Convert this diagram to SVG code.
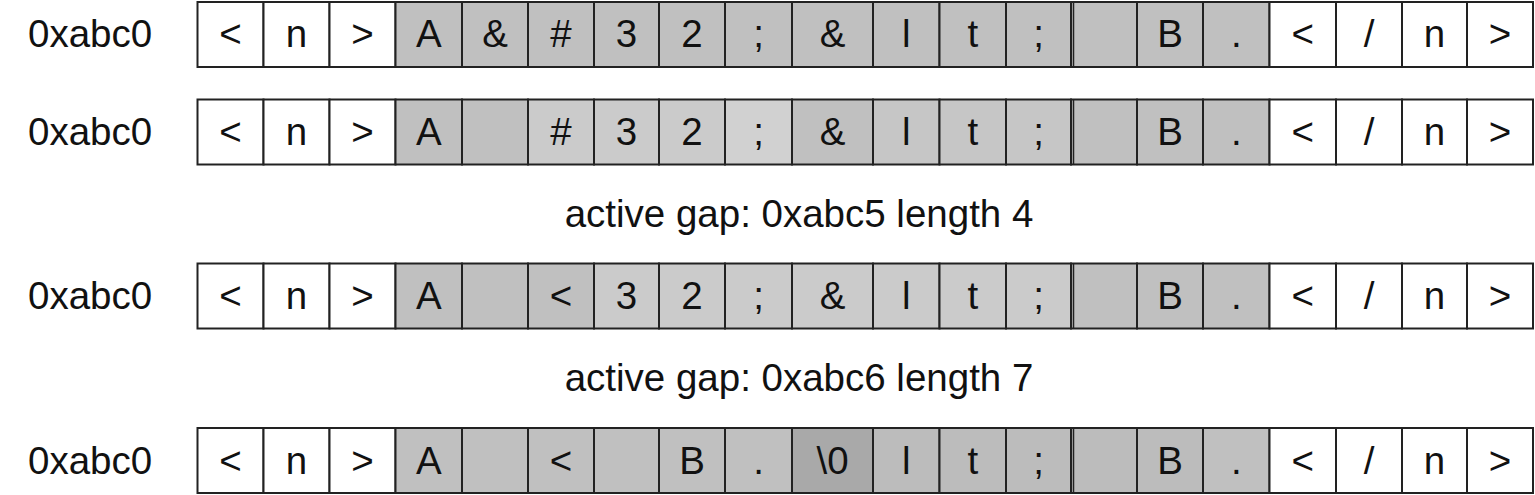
<svg xmlns="http://www.w3.org/2000/svg" width="1535" height="495" viewBox="0 0 1535 495">
<style>
rect{stroke:#222;stroke-width:2}
.w{fill:#ffffff}.g{fill:#c0c0c0}.a{fill:#cbcbcb}.b{fill:#d1d1d1}.m{fill:#c6c6c6}.d{fill:#a9a9a9}.k{fill:#bcbcbc}
text{font-family:"Liberation Sans",Arial,sans-serif;font-size:38.5px;fill:#111;text-anchor:middle}
.lbl{text-anchor:start}
.dl{stroke:#222;stroke-width:1.5}
</style>
<rect width="1535" height="495" fill="#fff" style="stroke:none"/>

<g id="row1">
<text class="lbl" x="28" y="47">0xabc0</text>
<g id="r1c1"><rect class="w" x="197.5" y="2" width="66" height="65"/><text x="230.5" y="47">&lt;</text></g>
<g id="r1c2"><rect class="w" x="263.5" y="2" width="66" height="65"/><text x="296.5" y="47">n</text></g>
<g id="r1c3"><rect class="w" x="329.5" y="2" width="66" height="65"/><text x="362.5" y="47">&gt;</text></g>
<g id="r1c4"><rect class="g" x="395.5" y="2" width="66.5" height="65"/><text x="428.75" y="47">A</text></g>
<g id="r1c5"><rect class="g" x="462" y="2" width="66" height="65"/><text x="495" y="47">&amp;</text></g>
<g id="r1c6"><rect class="g" x="528" y="2" width="66" height="65"/><text x="561" y="47">#</text></g>
<g id="r1c7"><rect class="g" x="594" y="2" width="65" height="65"/><text x="626.5" y="47">3</text></g>
<g id="r1c8"><rect class="g" x="659" y="2" width="66" height="65"/><text x="692" y="47">2</text></g>
<g id="r1c9"><rect class="g" x="725" y="2" width="67" height="65"/><text x="758.5" y="47">;</text></g>
<g id="r1c10"><rect class="g" x="792" y="2" width="81" height="65"/><text x="832.5" y="47">&amp;</text></g>
<g id="r1c11"><rect class="g" x="873" y="2" width="66.5" height="65"/><text x="906.25" y="47">l</text></g>
<g id="r1c12"><rect class="g" x="939.5" y="2" width="66.5" height="65"/><text x="972.75" y="47">t</text></g>
<g id="r1c13"><rect class="g" x="1006" y="2" width="65" height="65"/><text x="1038.5" y="47">;</text></g>
<g id="r1c14"><rect class="g" x="1071" y="2" width="66" height="65"/><line class="dl" x1="1073.5" y1="2" x2="1073.5" y2="67"/></g>
<g id="r1c15"><rect class="g" x="1137" y="2" width="66" height="65"/><text x="1170" y="47">B</text></g>
<g id="r1c16"><rect class="g" x="1203" y="2" width="66.5" height="65"/><text x="1236.25" y="47">.</text></g>
<g id="r1c17"><rect class="w" x="1269.5" y="2" width="66.5" height="65"/><text x="1302.75" y="47">&lt;</text></g>
<g id="r1c18"><rect class="w" x="1336" y="2" width="66" height="65"/><text x="1369" y="47">/</text></g>
<g id="r1c19"><rect class="w" x="1402" y="2" width="65" height="65"/><text x="1434.5" y="47">n</text></g>
<g id="r1c20"><rect class="w" x="1467" y="2" width="66" height="65"/><text x="1500" y="47">&gt;</text></g>
</g>

<g id="row2">
<text class="lbl" x="28" y="145">0xabc0</text>
<g id="r2c1"><rect class="w" x="197.5" y="99.5" width="66" height="65"/><text x="230.5" y="145">&lt;</text></g>
<g id="r2c2"><rect class="w" x="263.5" y="99.5" width="66" height="65"/><text x="296.5" y="145">n</text></g>
<g id="r2c3"><rect class="w" x="329.5" y="99.5" width="66" height="65"/><text x="362.5" y="145">&gt;</text></g>
<g id="r2c4"><rect class="g" x="395.5" y="99.5" width="66.5" height="65"/><text x="428.75" y="145">A</text></g>
<g id="r2c5"><rect class="g" x="462" y="99.5" width="66" height="65"/></g>
<g id="r2c6"><rect class="a" x="528" y="99.5" width="66" height="65"/><text x="561" y="145">#</text></g>
<g id="r2c7"><rect class="a" x="594" y="99.5" width="65" height="65"/><text x="626.5" y="145">3</text></g>
<g id="r2c8"><rect class="a" x="659" y="99.5" width="66" height="65"/><text x="692" y="145">2</text></g>
<g id="r2c9"><rect class="b" x="725" y="99.5" width="67" height="65"/><text x="758.5" y="145">;</text></g>
<g id="r2c10"><rect class="g" x="792" y="99.5" width="81" height="65"/><text x="832.5" y="145">&amp;</text></g>
<g id="r2c11"><rect class="m" x="873" y="99.5" width="66.5" height="65"/><text x="906.25" y="145">l</text></g>
<g id="r2c12"><rect class="m" x="939.5" y="99.5" width="66.5" height="65"/><text x="972.75" y="145">t</text></g>
<g id="r2c13"><rect class="m" x="1006" y="99.5" width="65" height="65"/><text x="1038.5" y="145">;</text></g>
<g id="r2c14"><rect class="g" x="1071" y="99.5" width="66" height="65"/><line class="dl" x1="1073.5" y1="99.5" x2="1073.5" y2="164.5"/></g>
<g id="r2c15"><rect class="g" x="1137" y="99.5" width="66" height="65"/><text x="1170" y="145">B</text></g>
<g id="r2c16"><rect class="g" x="1203" y="99.5" width="66.5" height="65"/><text x="1236.25" y="145">.</text></g>
<g id="r2c17"><rect class="w" x="1269.5" y="99.5" width="66.5" height="65"/><text x="1302.75" y="145">&lt;</text></g>
<g id="r2c18"><rect class="w" x="1336" y="99.5" width="66" height="65"/><text x="1369" y="145">/</text></g>
<g id="r2c19"><rect class="w" x="1402" y="99.5" width="65" height="65"/><text x="1434.5" y="145">n</text></g>
<g id="r2c20"><rect class="w" x="1467" y="99.5" width="66" height="65"/><text x="1500" y="145">&gt;</text></g>
</g>

<g id="note1"><text x="799" y="227">active gap: 0xabc5 length 4</text></g>

<g id="row3">
<text class="lbl" x="28" y="309">0xabc0</text>
<g id="r3c1"><rect class="w" x="197.5" y="263.5" width="66" height="65"/><text x="230.5" y="309">&lt;</text></g>
<g id="r3c2"><rect class="w" x="263.5" y="263.5" width="66" height="65"/><text x="296.5" y="309">n</text></g>
<g id="r3c3"><rect class="w" x="329.5" y="263.5" width="66" height="65"/><text x="362.5" y="309">&gt;</text></g>
<g id="r3c4"><rect class="g" x="395.5" y="263.5" width="66.5" height="65"/><text x="428.75" y="309">A</text></g>
<g id="r3c5"><rect class="g" x="462" y="263.5" width="66" height="65"/></g>
<g id="r3c6"><rect class="g" x="528" y="263.5" width="66" height="65"/><text x="561" y="309">&lt;</text></g>
<g id="r3c7"><rect class="a" x="594" y="263.5" width="65" height="65"/><text x="626.5" y="309">3</text></g>
<g id="r3c8"><rect class="a" x="659" y="263.5" width="66" height="65"/><text x="692" y="309">2</text></g>
<g id="r3c9"><rect class="a" x="725" y="263.5" width="67" height="65"/><text x="758.5" y="309">;</text></g>
<g id="r3c10"><rect class="a" x="792" y="263.5" width="81" height="65"/><text x="832.5" y="309">&amp;</text></g>
<g id="r3c11"><rect class="a" x="873" y="263.5" width="66.5" height="65"/><text x="906.25" y="309">l</text></g>
<g id="r3c12"><rect class="a" x="939.5" y="263.5" width="66.5" height="65"/><text x="972.75" y="309">t</text></g>
<g id="r3c13"><rect class="a" x="1006" y="263.5" width="65" height="65"/><text x="1038.5" y="309">;</text></g>
<g id="r3c14"><rect class="g" x="1071" y="263.5" width="66" height="65"/><line class="dl" x1="1073.5" y1="263.5" x2="1073.5" y2="328.5"/></g>
<g id="r3c15"><rect class="g" x="1137" y="263.5" width="66" height="65"/><text x="1170" y="309">B</text></g>
<g id="r3c16"><rect class="g" x="1203" y="263.5" width="66.5" height="65"/><text x="1236.25" y="309">.</text></g>
<g id="r3c17"><rect class="w" x="1269.5" y="263.5" width="66.5" height="65"/><text x="1302.75" y="309">&lt;</text></g>
<g id="r3c18"><rect class="w" x="1336" y="263.5" width="66" height="65"/><text x="1369" y="309">/</text></g>
<g id="r3c19"><rect class="w" x="1402" y="263.5" width="65" height="65"/><text x="1434.5" y="309">n</text></g>
<g id="r3c20"><rect class="w" x="1467" y="263.5" width="66" height="65"/><text x="1500" y="309">&gt;</text></g>
</g>

<g id="note2"><text x="799" y="391">active gap: 0xabc6 length 7</text></g>

<g id="row4">
<text class="lbl" x="28" y="474">0xabc0</text>
<g id="r4c1"><rect class="w" x="197.5" y="428" width="66" height="65"/><text x="230.5" y="474">&lt;</text></g>
<g id="r4c2"><rect class="w" x="263.5" y="428" width="66" height="65"/><text x="296.5" y="474">n</text></g>
<g id="r4c3"><rect class="w" x="329.5" y="428" width="66" height="65"/><text x="362.5" y="474">&gt;</text></g>
<g id="r4c4"><rect class="g" x="395.5" y="428" width="66.5" height="65"/><text x="428.75" y="474">A</text></g>
<g id="r4c5"><rect class="g" x="462" y="428" width="66" height="65"/></g>
<g id="r4c6"><rect class="g" x="528" y="428" width="66" height="65"/><text x="561" y="474">&lt;</text></g>
<g id="r4c7"><rect class="g" x="594" y="428" width="65" height="65"/></g>
<g id="r4c8"><rect class="g" x="659" y="428" width="66" height="65"/><text x="692" y="474">B</text></g>
<g id="r4c9"><rect class="g" x="725" y="428" width="67" height="65"/><text x="758.5" y="474">.</text></g>
<g id="r4c10"><rect class="d" x="792" y="428" width="81" height="65"/><text x="832.5" y="474">\0</text></g>
<g id="r4c11"><rect class="k" x="873" y="428" width="66.5" height="65"/><text x="906.25" y="474">l</text></g>
<g id="r4c12"><rect class="k" x="939.5" y="428" width="66.5" height="65"/><text x="972.75" y="474">t</text></g>
<g id="r4c13"><rect class="k" x="1006" y="428" width="65" height="65"/><text x="1038.5" y="474">;</text></g>
<g id="r4c14"><rect class="k" x="1071" y="428" width="66" height="65"/><line class="dl" x1="1073.5" y1="428" x2="1073.5" y2="493"/></g>
<g id="r4c15"><rect class="k" x="1137" y="428" width="66" height="65"/><text x="1170" y="474">B</text></g>
<g id="r4c16"><rect class="g" x="1203" y="428" width="66.5" height="65"/><text x="1236.25" y="474">.</text></g>
<g id="r4c17"><rect class="w" x="1269.5" y="428" width="66.5" height="65"/><text x="1302.75" y="474">&lt;</text></g>
<g id="r4c18"><rect class="w" x="1336" y="428" width="66" height="65"/><text x="1369" y="474">/</text></g>
<g id="r4c19"><rect class="w" x="1402" y="428" width="65" height="65"/><text x="1434.5" y="474">n</text></g>
<g id="r4c20"><rect class="w" x="1467" y="428" width="66" height="65"/><text x="1500" y="474">&gt;</text></g>
</g>
</svg>
